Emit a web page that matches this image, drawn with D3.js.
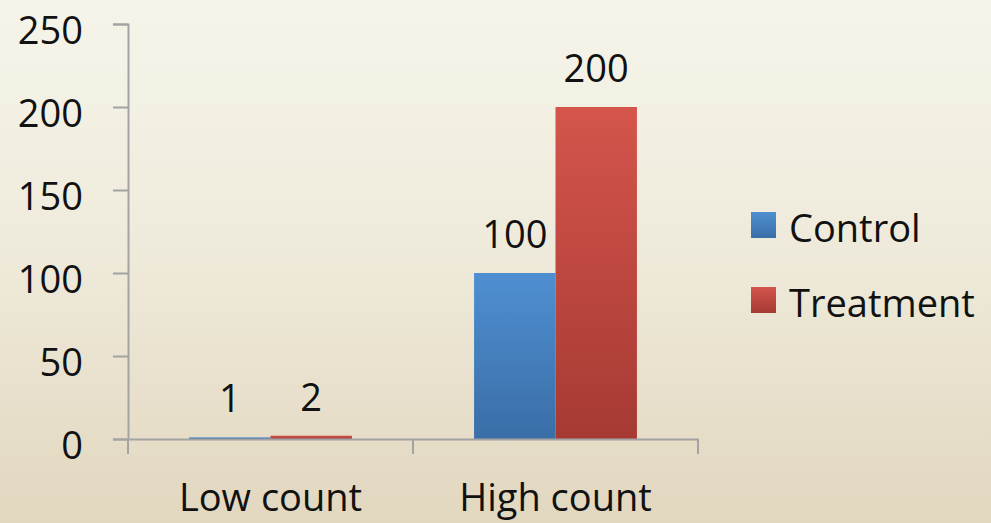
<!DOCTYPE html>
<html>
<head>
<meta charset="utf-8">
<script src="https://cdn.jsdelivr.net/npm/d3@7/dist/d3.min.js"></script>
<style>
  html, body { margin: 0; padding: 0; }
  body { width: 991px; height: 523px; overflow: hidden; }
  svg { display: block; font-family: "Open Sans", sans-serif; }
</style>
</head>
<body>
<svg id="chart" width="991" height="523"></svg>
<script>
// Chart data
const categories = ["Low count", "High count"];
const seriesNames = ["Control", "Treatment"];
const controlValues = [1, 100];
const treatmentValues = [2, 200];
const yTicks = [0, 50, 100, 150, 200, 250];

const seriesValues = [controlValues, treatmentValues];
const seriesColors = [
  { top: "#4f8fd1", bottom: "#3a6ea7" },
  { top: "#d4554c", bottom: "#a63a33" }
];

const svg = d3.select("#chart");
const defs = svg.append("defs");

// Background wash
const bg = defs.append("linearGradient").attr("id", "bg")
  .attr("x1", 0).attr("y1", 0).attr("x2", 0).attr("y2", 1);
bg.append("stop").attr("offset", "0%").attr("stop-color", "#f6f4ea");
bg.append("stop").attr("offset", "45%").attr("stop-color", "#efebdc");
bg.append("stop").attr("offset", "100%").attr("stop-color", "#e2d7bf");
svg.append("rect").attr("width", 991).attr("height", 523).attr("fill", "url(#bg)");

// Bar fills
seriesColors.forEach((c, i) => {
  const g = defs.append("linearGradient").attr("id", "fill" + i)
    .attr("x1", 0).attr("y1", 0).attr("x2", 0).attr("y2", 1);
  g.append("stop").attr("offset", "0%").attr("stop-color", c.top);
  g.append("stop").attr("offset", "100%").attr("stop-color", c.bottom);
});

const plot = { left: 128, right: 698, top: 24, bottom: 439 };

const x0 = d3.scaleBand().domain(categories).range([plot.left, plot.right]).padding(0);
const x1 = d3.scaleBand().domain(seriesNames).range([0, x0.bandwidth()])
  .paddingInner(0).paddingOuter(0.75);
const y = d3.scaleLinear().domain([0, 250]).range([plot.bottom, plot.top]);

const axisColor = "#a3a3a3";

// Y axis
const yAxis = svg.append("g").attr("transform", `translate(${plot.left},0)`)
  .call(d3.axisLeft(y).tickValues(yTicks).tickSize(15).tickPadding(30).tickFormat(d3.format("d")));
yAxis.select(".domain").attr("stroke", axisColor).attr("stroke-width", 2);
yAxis.selectAll(".tick line").attr("stroke", axisColor).attr("stroke-width", 2);
yAxis.selectAll(".tick text")
  .attr("fill", "#111").attr("font-size", 38).attr("font-family", "'Open Sans', sans-serif")
  .attr("dy", "0.5em");

// Bars
const groups = svg.append("g").selectAll("g")
  .data(categories).join("g")
  .attr("transform", d => `translate(${x0(d)},0)`);

groups.selectAll("rect")
  .data((d, ci) => seriesNames.map((s, si) => ({ s, si, v: seriesValues[si][ci] })))
  .join("rect")
  .attr("x", d => x1(d.s))
  .attr("y", d => y(d.v))
  .attr("width", x1.bandwidth())
  .attr("height", d => y(0) - y(d.v))
  .attr("fill", d => `url(#fill${d.si})`);

// X axis (drawn over bar bases)
const xAxis = svg.append("g").attr("transform", `translate(0,${plot.bottom})`)
  .call(d3.axisBottom(x0).tickSize(0).tickPadding(45));
xAxis.select(".domain").attr("stroke", axisColor).attr("stroke-width", 2);
xAxis.selectAll(".tick text")
  .attr("fill", "#111").attr("font-size", 38).attr("font-family", "'Open Sans', sans-serif");
const edgeTicks = [plot.left, x0(categories[1]), plot.right];
svg.append("g").selectAll("line").data(edgeTicks).join("line")
  .attr("x1", d => d).attr("x2", d => d)
  .attr("y1", plot.bottom).attr("y2", plot.bottom + 15)
  .attr("stroke", axisColor).attr("stroke-width", 2);

// Value labels
groups.selectAll("text.value")
  .data((d, ci) => seriesNames.map((s, si) => ({ s, v: seriesValues[si][ci] })))
  .join("text").attr("class", "value")
  .attr("x", d => x1(d.s) + x1.bandwidth() / 2)
  .attr("y", d => y(d.v) - 25)
  .attr("text-anchor", "middle")
  .attr("font-size", 38).attr("fill", "#111")
  .text(d => d.v);

// Legend
const legend = svg.append("g").attr("transform", "translate(751,212)");
const item = legend.selectAll("g").data(seriesNames).join("g")
  .attr("transform", (d, i) => `translate(0,${i * 75})`);
item.append("rect").attr("width", 25).attr("height", 26)
  .attr("fill", (d, i) => `url(#fill${i})`);
item.append("text").attr("x", 38).attr("y", 30)
  .attr("font-size", 38).attr("fill", "#111").text(d => d);
</script>
</body>
</html>
